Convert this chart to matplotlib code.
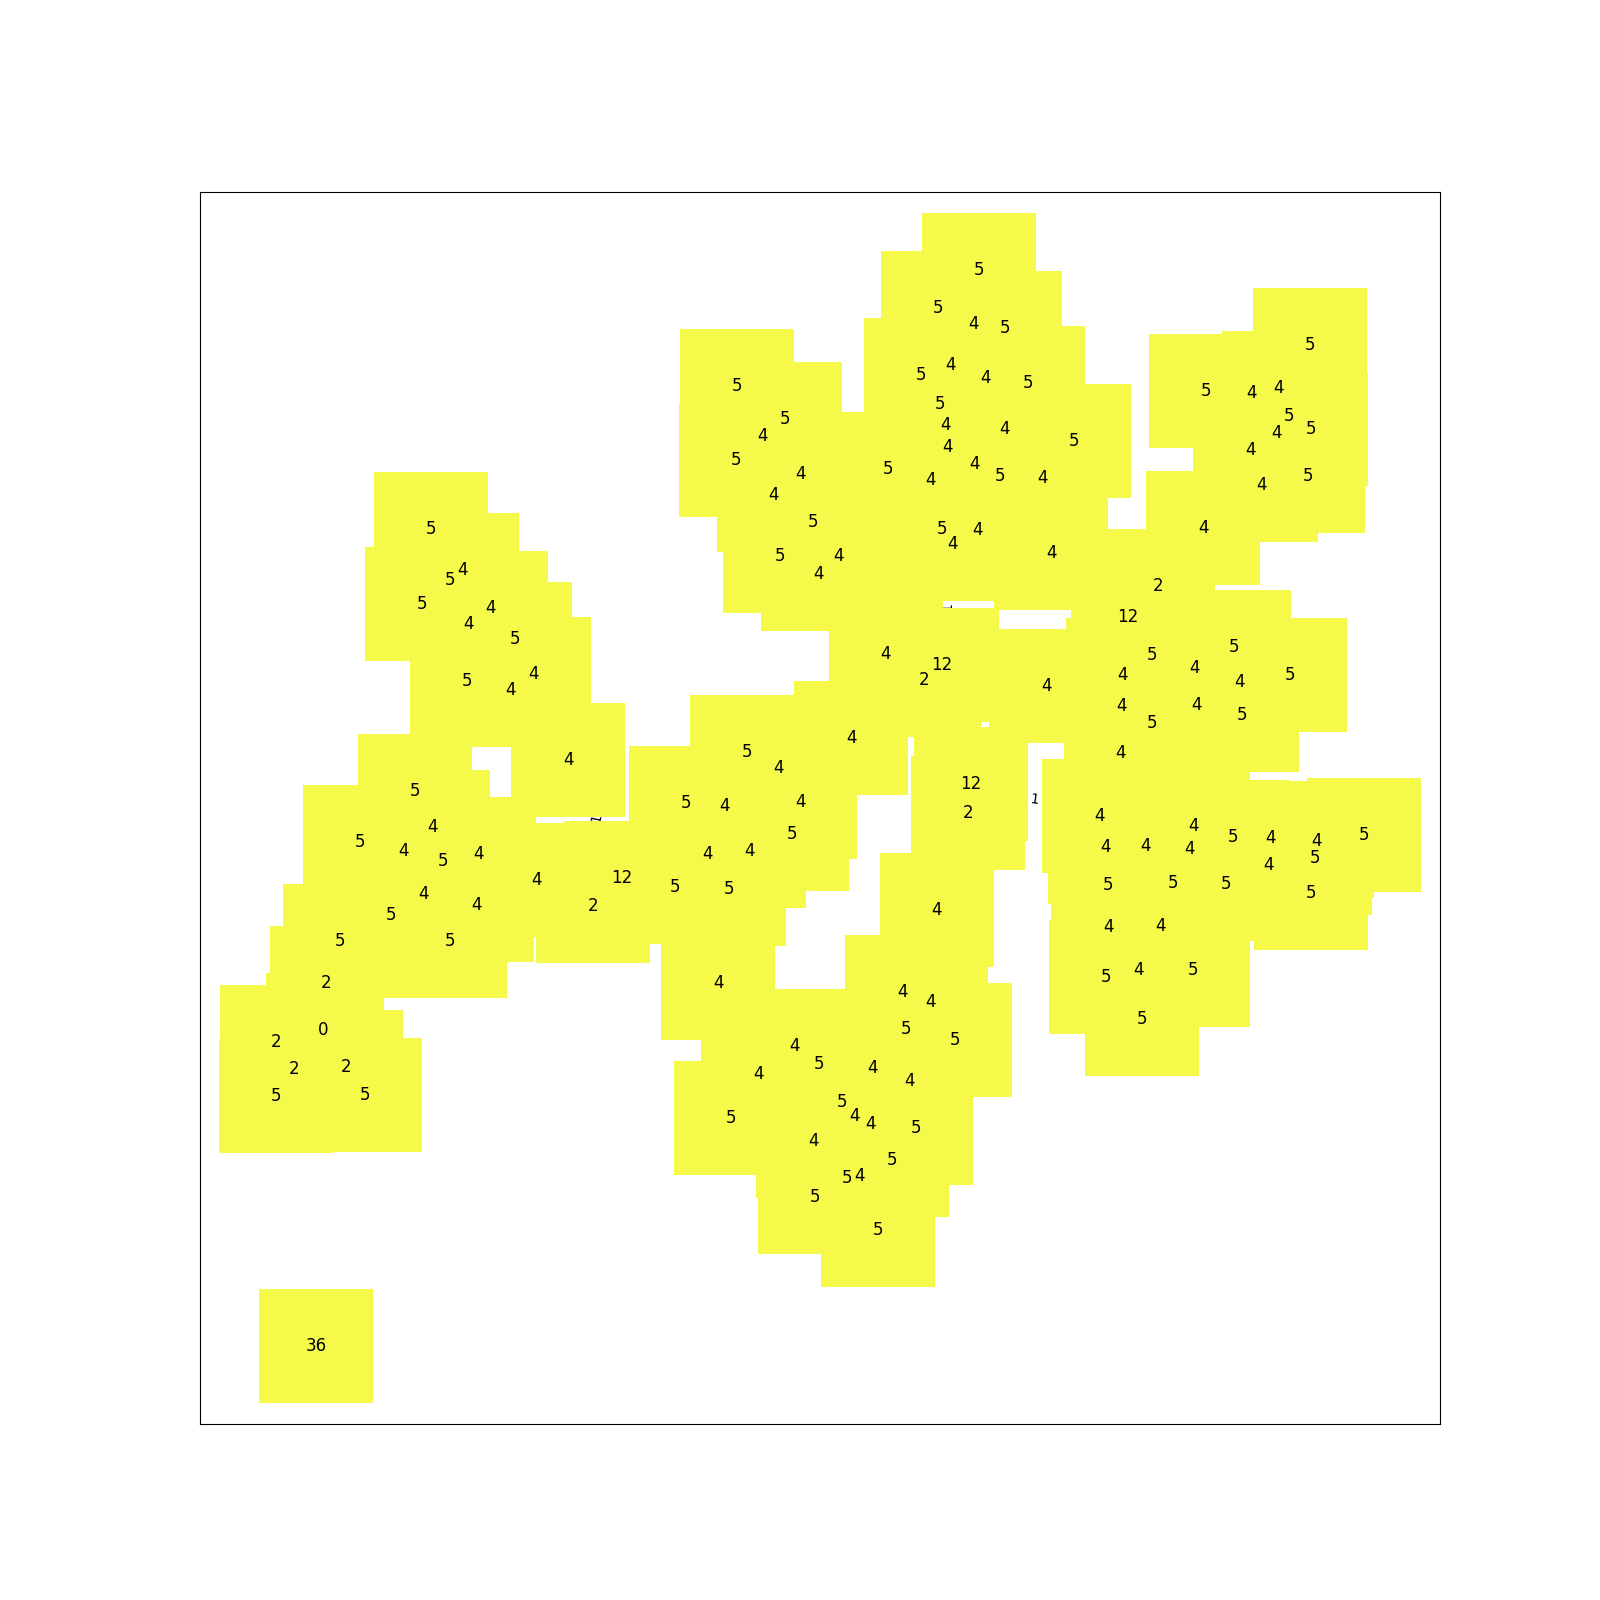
import matplotlib
matplotlib.use("Agg")
import matplotlib.pyplot as plt

# node layout (x, y in layout units, y grows downward) and the label shown on each node
node_x = [
    # top cluster
    959, 919, 954, 985, 902, 931, 966, 1007, 921, 926, 984, 928, 1052, 870, 912, 955, 980, 1022, 923, 958, 933, 1030,
    # upper middle cluster
    722, 769, 747, 721, 784, 758, 797, 764, 822, 802,
    # top right cluster
    1284, 1182, 1226, 1253, 1263, 1285, 1251, 1225, 1236, 1282, 1179,
    # middle right
    1135, 1105, 1209, 1129, 1100, 1170, 1215, 1264, 1025, 1099, 1172, 1129, 1217, 1098,
    # center hubs
    868, 923, 905, 834, 951, 949, 918,
    # lower right cluster
    1077, 1083, 1122, 1169, 1166, 1208, 1245, 1290, 1337, 1243, 1289, 1086, 1149, 1201, 1285,
    1086, 1137, 1084, 1116, 1169, 1119,
    # left upper cluster
    422, 453, 441, 414, 481, 459, 505, 523, 458, 500, 557,
    # left lower cluster
    407, 424, 353, 395, 434, 469, 526, 415, 383, 467, 333, 441, 320, 317, 271, 288, 339, 270, 358,
    609, 581,
    # center middle cluster
    732, 763, 672, 710, 784, 776, 693, 734, 661, 714, 704,
    # bottom center cluster
    884, 912, 888, 936, 779, 803, 855, 743, 891, 716, 825, 837, 853, 898, 797, 874, 830, 842, 799, 860,
    # isolated node
    310,
]
node_y = [
    264, 302, 317, 321, 367, 357, 370, 375, 396, 416, 420, 438, 432, 459, 470, 454, 466, 468, 518, 519, 533, 542,
    378, 410, 427, 451, 464, 485, 511, 545, 545, 562,
    338, 383, 385, 380, 407, 420, 424, 441, 475, 466, 517,
    574, 604, 634, 642, 661, 654, 668, 661, 672, 692, 691, 708, 700, 738,
    641, 651, 666, 723, 768, 796, 891,
    799, 830, 829, 809, 832, 820, 821, 824, 818, 847, 840, 867, 865, 866, 875,
    908, 907, 957, 950, 950, 998,
    518, 558, 568, 592, 596, 611, 626, 660, 667, 676, 744,
    775, 810, 825, 834, 843, 837, 862, 876, 896, 887, 922, 922, 963, 1009, 1021, 1047, 1045, 1074, 1073,
    860, 888,
    737, 752, 787, 790, 786, 817, 837, 834, 869, 871, 963,
    972, 982, 1008, 1019, 1025, 1042, 1046, 1052, 1059, 1095, 1080, 1093, 1101, 1105, 1118, 1136, 1154, 1152, 1173, 1205,
    1319,
]
node_labels = [
    "5", "5", "4", "5", "5", "4", "4", "5", "5", "4", "4", "4", "5", "5", "4", "4", "5", "4", "5", "4", "4", "4",
    "5", "5", "4", "5", "4", "4", "5", "5", "4", "4",
    "5", "5", "4", "4", "5", "5", "4", "4", "4", "5", "4",
    "2", "12", "5", "5", "4", "4", "4", "5", "4", "4", "4", "5", "5", "4",
    "4", "12", "2", "4", "12", "2", "4",
    "4", "4", "4", "4", "4", "5", "4", "4", "5", "4", "5", "5", "5", "5", "5",
    "4", "4", "5", "4", "5", "5",
    "5", "4", "5", "5", "4", "4", "5", "4", "5", "4", "4",
    "5", "4", "5", "4", "5", "4", "4", "4", "5", "4", "5", "5", "2", "0", "2", "2", "2", "5", "5",
    "12", "2",
    "5", "4", "5", "4", "4", "5", "4", "4", "5", "5", "4",
    "4", "4", "5", "5", "4", "5", "4", "4", "4", "5", "5", "4", "4", "5", "4", "5", "5", "4", "5", "5",
    "36",
]

# edge weight labels that peek out between the nodes
edge_label_x = [584, 928, 1014]
edge_label_y = [801, 594, 783]
edge_label_rot = [78, 90, -8]
edge_label_text = ["1", "1", "1"]

node_color = "#f4f94a"

fig = plt.figure(figsize=(16, 16), dpi=100)
ax = fig.add_subplot(111)

for x, y, t, r in zip(edge_label_x, edge_label_y, edge_label_text, edge_label_rot):
    ax.text(x, -y, t, fontsize=10, rotation=r, ha="center", va="center",
            rotation_mode="anchor", zorder=1)

ax.scatter(node_x, [-v for v in node_y], s=6640, marker="s", c=node_color,
           linewidths=0, zorder=2)

for x, y, t in zip(node_x, node_y, node_labels):
    ax.text(x, -y, t, fontsize=12, ha="center", va="center", zorder=3)

ax.set_xlim(196, 1411)
ax.set_ylim(-1395, -188)
ax.set_xticks([])
ax.set_yticks([])

fig.savefig("out.png", dpi=100)
plt.close(fig)
